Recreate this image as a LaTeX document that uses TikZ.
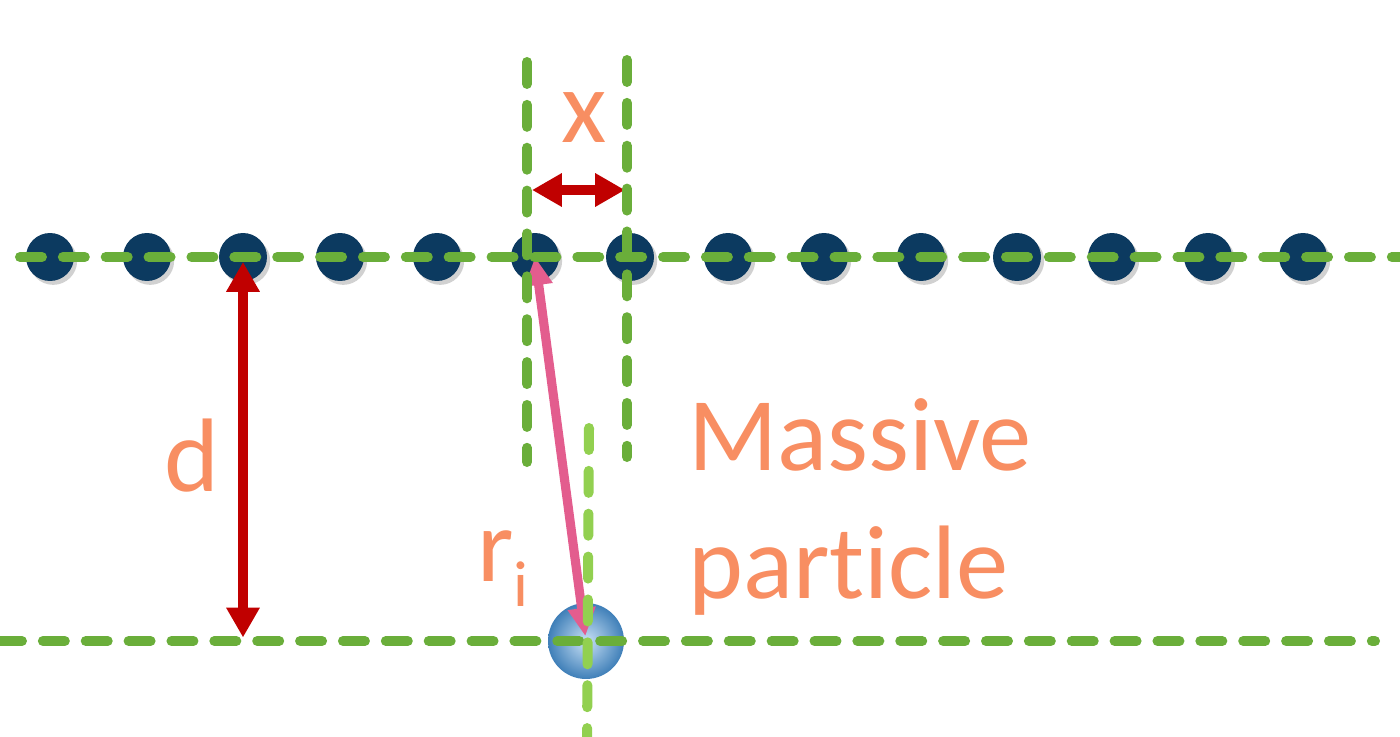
\documentclass[tikz,border=0pt]{standalone}
\usepackage{fontspec}
\setmainfont{Carlito}[Ligatures=NoCommon]
\usetikzlibrary{arrows.meta,shadows}
\definecolor{dotblue}{HTML}{0C3A60}
\definecolor{guidegreen}{HTML}{6AAE3A}
\definecolor{lightgreen}{HTML}{92D050}
\definecolor{dimred}{HTML}{C00000}
\definecolor{rpink}{HTML}{E35D8E}
\definecolor{labelorange}{HTML}{F88E62}
\definecolor{ballinner}{HTML}{C9E1F6}
\definecolor{ballouter}{HTML}{3F7FB8}
\tikzset{
  dot/.style={circle, fill=dotblue, minimum size=0.96cm, inner sep=0pt,
    drop shadow={shadow xshift=1.8pt, shadow yshift=-2.2pt, opacity=0.18, fill=black}},
  guide/.style={line width=5.7pt, line cap=round, dash pattern=on 12.5pt off 11.9pt, draw=guidegreen},
  lightguide/.style={guide, draw=lightgreen},
  dimarrow/.style={draw=dimred, line width=5.8pt, {Triangle[length=17pt,width=18pt]}-{Triangle[length=17pt,width=18pt]}},
  rarrow/.style={draw=rpink, line width=5.2pt, {Triangle[length=16pt,width=15pt]}-{Triangle[length=16pt,width=15pt]}},
  particle/.style={circle, minimum size=1.52cm, inner sep=0pt, inner color=ballinner, outer color=ballouter},
  label/.style={text=labelorange, inner sep=0pt, font=\fontsize{59.5}{72.6}\selectfont}
}
\begin{document}
\begin{tikzpicture}[x=0.02cm, y=-0.02cm]
\useasboundingbox (0,0) rectangle (1400,737);
% row of particles
\foreach \x [count=\i] in {50,147,243,340,437,535,630,728,824,921,1017,1112,1208,1303}
  \node[dot] (a\i) at (\x,257) {};
\node[particle] (m) at (586,641) {};
% guide lines
\coordinate (rowl) at (20,257);
\coordinate (rowr) at (1400,257);
\coordinate (basel) at (0,641);
\coordinate (baser) at (1375,641);
\coordinate (gla) at (527,62);
\coordinate (glb) at (527,462);
\coordinate (gra) at (627,60);
\coordinate (grb) at (627,457);
\coordinate (gma) at (589,428);
\coordinate (gmb) at (587,745);
\coordinate (xa) at (532,190);
\coordinate (xb) at (625,190);
% arrows
\draw[dimarrow] (xa) -- (xb);
\draw[dimarrow, shorten <=2.8pt, shorten >=2pt] (a3.center) -- (a3.center |- m.center);
\draw[rarrow, shorten <=2.8pt] (m.center) -- (a6.center);
\draw[guide] (rowl) -- (rowr);
\draw[guide] (gla) -- (glb);
\draw[guide] (gra) -- (grb);
\draw[guide] (basel) -- (baser);
\draw[lightguide] (gma) -- (gmb);
% labels
\node[label, anchor=base] (xl) at (584,142) {x};
\node[label, anchor=base west] (dl) at (164,491) {d};
\node[label, anchor=base west] (rl) at (477,581) {r\raisebox{-14.7pt}{\fontsize{37}{40}\selectfont i}};
\node[label, anchor=base west, align=left] (ml) at (688,598) {Massive\\particle};
\end{tikzpicture}
\end{document}
